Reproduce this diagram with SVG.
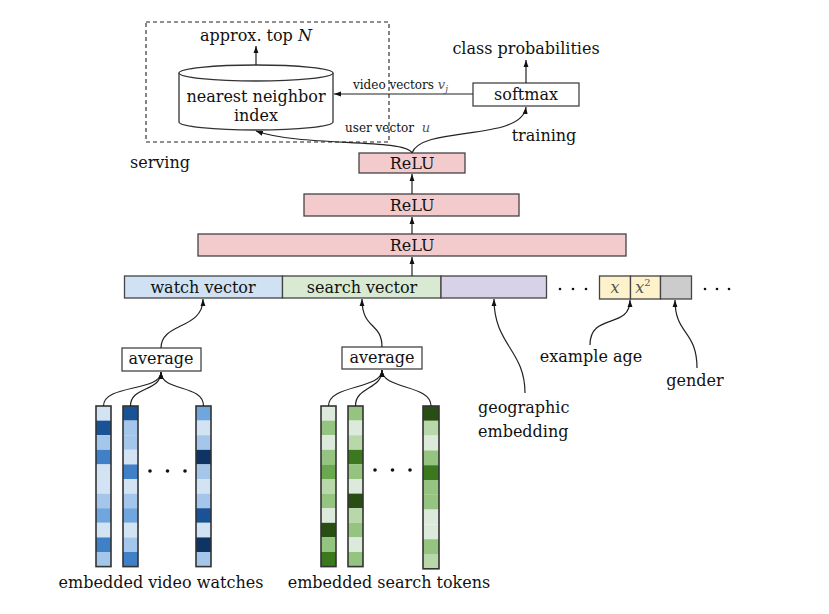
<svg xmlns="http://www.w3.org/2000/svg" width="829" height="614" viewBox="0 0 829 614">
<defs>
<marker id="ah" viewBox="0 0 10 10" refX="10" refY="5" markerWidth="7" markerHeight="7" markerUnits="userSpaceOnUse" orient="auto"><path d="M0,1.5 L10,5 L0,8.5 z" fill="#111"/></marker>
<style>
text{font-family:"DejaVu Serif","Liberation Serif",serif;fill:#111;}
.t{font-size:16px;}
.s{font-size:12px;}
.m{font-style:italic;fill:#555;}
.c{text-anchor:middle;}
.box{stroke:#444;stroke-width:1.3;}
.edge{fill:none;stroke:#222;stroke-width:1.2;}
.cell{stroke:none;}
.frame{fill:none;stroke:#333;stroke-width:1.6;}
.l3{fill:#d2e3f3;}.l2{fill:#a4c6ea;}.l1{fill:#6fa6dd;}.d1{fill:#3f80c8;}.d2{fill:#1a5296;}.d3{fill:#0d3464;}
.g3{fill:#dceadb;}.g2{fill:#b8d8aa;}.g1{fill:#94c47f;}.gd1{fill:#6aa84f;}.gd2{fill:#3b781e;}.gd3{fill:#284e14;}
.dot{fill:#111;}
</style>
</defs>

<g id="serving-box">
<rect x="146" y="22" width="243" height="120" fill="none" stroke="#222" stroke-width="1.1" stroke-dasharray="4,3"/>
<text class="t" x="130" y="168">serving</text>
</g>

<g id="approx-top-n">
<text class="t c" x="256" y="41">approx. top <tspan font-style="italic">N</tspan></text>
</g>

<g id="nn-index">
<path d="M179,73 L179,122 A77,8 0 0 0 333,122 L333,73" fill="#fff" stroke="#333" stroke-width="1.3"/>
<ellipse cx="256" cy="73" rx="77" ry="8" fill="#fff" stroke="#333" stroke-width="1.3"/>
<text class="t c" x="256" y="102">nearest neighbor</text>
<text class="t c" x="256" y="121">index</text>
</g>

<g id="class-prob">
<text class="t c" x="526" y="54">class probabilities</text>
</g>

<g id="softmax">
<rect class="box" x="473" y="83" width="106" height="23" fill="#fff"/>
<text class="t c" x="526" y="100">softmax</text>
</g>

<g id="training-label">
<text class="t c" x="544" y="141">training</text>
</g>

<g id="relu1">
<rect class="box" x="359" y="153" width="106" height="20" fill="#f3cbcc"/>
<text class="t c" x="412" y="169">ReLU</text>
</g>
<g id="relu2">
<rect class="box" x="304" y="194" width="215" height="22" fill="#f3cbcc"/>
<text class="t c" x="412" y="211">ReLU</text>
</g>
<g id="relu3">
<rect class="box" x="198" y="234" width="428" height="22" fill="#f3cbcc"/>
<text class="t c" x="412" y="251">ReLU</text>
</g>

<g id="watch-vector">
<rect class="box" x="124.5" y="276" width="158" height="22" fill="#cfe1f3"/>
<text class="t c" x="203" y="293">watch vector</text>
</g>
<g id="search-vector">
<rect class="box" x="282.5" y="276" width="158.5" height="22" fill="#d9ead3"/>
<text class="t c" x="362" y="293">search vector</text>
</g>
<g id="geo-vector">
<rect class="box" x="441" y="276" width="105.5" height="22" fill="#d8d2e8"/>
</g>
<g id="dots1">
<circle class="dot" cx="560" cy="289" r="1.3"/><circle class="dot" cx="573" cy="289" r="1.3"/><circle class="dot" cx="586" cy="289" r="1.3"/>
</g>
<g id="age-x">
<rect class="box" x="599.5" y="276" width="31" height="23" fill="#fef2cc"/>
<text class="t c m" x="615" y="293">x</text>
</g>
<g id="age-x2">
<rect class="box" x="630.5" y="276" width="30" height="23" fill="#fef2cc"/>
<text class="t c m" x="643" y="293">x<tspan font-size="10" font-style="normal" dy="-7">2</tspan></text>
</g>
<g id="gender-box">
<rect class="box" x="660.5" y="276" width="31" height="23" fill="#cccccc"/>
</g>
<g id="dots2">
<circle class="dot" cx="705" cy="289" r="1.3"/><circle class="dot" cx="717" cy="289" r="1.3"/><circle class="dot" cx="729" cy="289" r="1.3"/>
</g>

<g id="average1">
<rect class="box" x="122" y="348" width="79" height="23" fill="#fff"/>
<text class="t c" x="161" y="364">average</text>
</g>
<g id="average2">
<rect class="box" x="342" y="347" width="80" height="22" fill="#fff"/>
<text class="t c" x="382" y="363">average</text>
</g>

<g id="geo-label">
<text class="t" x="478" y="413">geographic</text>
<text class="t" x="478" y="437">embedding</text>
</g>
<g id="age-label">
<text class="t c" x="591" y="362">example age</text>
</g>
<g id="gender-label">
<text class="t c" x="695" y="386">gender</text>
</g>

<g id="watch-bars">
<g>
<rect class="cell l3" x="96" y="406" width="15" height="14.6"/><rect class="cell d2" x="96" y="420.6" width="15" height="14.6"/><rect class="cell l2" x="96" y="435.2" width="15" height="14.6"/><rect class="cell d1" x="96" y="449.8" width="15" height="14.6"/><rect class="cell l3" x="96" y="464.4" width="15" height="14.6"/><rect class="cell l3" x="96" y="479" width="15" height="14.6"/><rect class="cell l2" x="96" y="493.6" width="15" height="14.6"/><rect class="cell l1" x="96" y="508.2" width="15" height="14.6"/><rect class="cell l3" x="96" y="522.8" width="15" height="14.6"/><rect class="cell d1" x="96" y="537.4" width="15" height="14.6"/><rect class="cell l2" x="96" y="552" width="15" height="14.6"/>
<rect class="frame" x="96" y="406" width="15" height="160.6"/>
</g>
<g>
<rect class="cell d2" x="123" y="406" width="15" height="14.6"/><rect class="cell l2" x="123" y="420.6" width="15" height="14.6"/><rect class="cell l2" x="123" y="435.2" width="15" height="14.6"/><rect class="cell l3" x="123" y="449.8" width="15" height="14.6"/><rect class="cell d1" x="123" y="464.4" width="15" height="14.6"/><rect class="cell l3" x="123" y="479" width="15" height="14.6"/><rect class="cell l2" x="123" y="493.6" width="15" height="14.6"/><rect class="cell l1" x="123" y="508.2" width="15" height="14.6"/><rect class="cell l3" x="123" y="522.8" width="15" height="14.6"/><rect class="cell l2" x="123" y="537.4" width="15" height="14.6"/><rect class="cell d1" x="123" y="552" width="15" height="14.6"/>
<rect class="frame" x="123" y="406" width="15" height="160.6"/>
</g>
<g>
<rect class="cell l1" x="196" y="406" width="15" height="14.6"/><rect class="cell l3" x="196" y="420.6" width="15" height="14.6"/><rect class="cell l2" x="196" y="435.2" width="15" height="14.6"/><rect class="cell d3" x="196" y="449.8" width="15" height="14.6"/><rect class="cell l2" x="196" y="464.4" width="15" height="14.6"/><rect class="cell l3" x="196" y="479" width="15" height="14.6"/><rect class="cell l2" x="196" y="493.6" width="15" height="14.6"/><rect class="cell d2" x="196" y="508.2" width="15" height="14.6"/><rect class="cell l3" x="196" y="522.8" width="15" height="14.6"/><rect class="cell d3" x="196" y="537.4" width="15" height="14.6"/><rect class="cell l2" x="196" y="552" width="15" height="14.6"/>
<rect class="frame" x="196" y="406" width="15" height="160.6"/>
</g>
<circle class="dot" cx="150" cy="471" r="1.8"/><circle class="dot" cx="167.5" cy="471" r="1.8"/><circle class="dot" cx="185" cy="471" r="1.8"/>
<text class="t c" x="161" y="588">embedded video watches</text>
</g>

<g id="search-bars">
<g>
<rect class="cell g3" x="321" y="406" width="15" height="14.6"/><rect class="cell g1" x="321" y="420.6" width="15" height="14.6"/><rect class="cell g3" x="321" y="435.2" width="15" height="14.6"/><rect class="cell g1" x="321" y="449.8" width="15" height="14.6"/><rect class="cell gd1" x="321" y="464.4" width="15" height="14.6"/><rect class="cell g2" x="321" y="479" width="15" height="14.6"/><rect class="cell g1" x="321" y="493.6" width="15" height="14.6"/><rect class="cell g3" x="321" y="508.2" width="15" height="14.6"/><rect class="cell gd3" x="321" y="522.8" width="15" height="14.6"/><rect class="cell g1" x="321" y="537.4" width="15" height="14.6"/><rect class="cell gd2" x="321" y="552" width="15" height="14.6"/>
<rect class="frame" x="321" y="406" width="15" height="160.6"/>
</g>
<g>
<rect class="cell g1" x="348" y="406" width="15" height="14.6"/><rect class="cell g3" x="348" y="420.6" width="15" height="14.6"/><rect class="cell g2" x="348" y="435.2" width="15" height="14.6"/><rect class="cell gd2" x="348" y="449.8" width="15" height="14.6"/><rect class="cell g1" x="348" y="464.4" width="15" height="14.6"/><rect class="cell g3" x="348" y="479" width="15" height="14.6"/><rect class="cell gd3" x="348" y="493.6" width="15" height="14.6"/><rect class="cell g2" x="348" y="508.2" width="15" height="14.6"/><rect class="cell g1" x="348" y="522.8" width="15" height="14.6"/><rect class="cell g3" x="348" y="537.4" width="15" height="14.6"/><rect class="cell g1" x="348" y="552" width="15" height="14.6"/>
<rect class="frame" x="348" y="406" width="15" height="160.6"/>
</g>
<g>
<rect class="cell gd3" x="423" y="406" width="16" height="14.8"/><rect class="cell g2" x="423" y="420.8" width="16" height="14.8"/><rect class="cell g3" x="423" y="435.6" width="16" height="14.8"/><rect class="cell g1" x="423" y="450.4" width="16" height="14.8"/><rect class="cell gd2" x="423" y="465.2" width="16" height="14.8"/><rect class="cell g1" x="423" y="480" width="16" height="14.8"/><rect class="cell g1" x="423" y="494.8" width="16" height="14.8"/><rect class="cell g3" x="423" y="509.6" width="16" height="14.8"/><rect class="cell g3" x="423" y="524.4" width="16" height="14.8"/><rect class="cell g1" x="423" y="539.2" width="16" height="14.8"/><rect class="cell g2" x="423" y="554" width="16" height="14.8"/>
<rect class="frame" x="423" y="406" width="16" height="162.8"/>
</g>
<circle class="dot" cx="375" cy="470" r="1.8"/><circle class="dot" cx="392.5" cy="470" r="1.8"/><circle class="dot" cx="410" cy="470" r="1.8"/>
<text class="t c" x="389" y="588">embedded search tokens</text>
</g>

<g id="connectors">
<path class="edge" d="M256,65 L256,46" marker-end="url(#ah)"/>
<path class="edge" d="M526,83 L526,60" marker-end="url(#ah)"/>
<path class="edge" d="M473,94 L334,94" marker-end="url(#ah)"/>
<text class="s" x="353" y="89">video vectors <tspan class="m" font-size="13">v</tspan><tspan class="m" font-size="9" dy="3">j</tspan></text>
<text class="s" x="345" y="132">user vector <tspan class="m" font-size="13" dx="4">u</tspan></text>
<path class="edge" d="M412,153 C405,138 300,147 256,131" marker-end="url(#ah)"/>
<path class="edge" d="M412,153 C422,125 522,142 526,107" marker-end="url(#ah)"/>
<path class="edge" d="M412,194 L412,174" marker-end="url(#ah)"/>
<path class="edge" d="M412,234 L412,217" marker-end="url(#ah)"/>
<path class="edge" d="M412,276 L412,257" marker-end="url(#ah)"/>
<path class="edge" d="M161,348 C161,322 203,330 203,299" marker-end="url(#ah)"/>
<path class="edge" d="M382,347 C382,322 362,330 362,299" marker-end="url(#ah)"/>
<path class="edge" d="M525,393 C525,350 494,345 494,299" marker-end="url(#ah)"/>
<path class="edge" d="M590,345 C590,312 630,330 630,300" marker-end="url(#ah)"/>
<path class="edge" d="M697,368 C697,330 675,335 675,300" marker-end="url(#ah)"/>
<path class="edge" d="M103.5,406 C103.5,384 161,392 161,372" marker-end="url(#ah)"/>
<path class="edge" d="M130.5,406 C130.5,386 161,392 161,372" marker-end="url(#ah)"/>
<path class="edge" d="M203.5,406 C203.5,384 161,392 161,372" marker-end="url(#ah)"/>
<path class="edge" d="M328.5,406 C328.5,384 382,390 382,370" marker-end="url(#ah)"/>
<path class="edge" d="M355.5,406 C355.5,386 382,390 382,370" marker-end="url(#ah)"/>
<path class="edge" d="M431,406 C431,384 382,390 382,370" marker-end="url(#ah)"/>
</g>
</svg>
